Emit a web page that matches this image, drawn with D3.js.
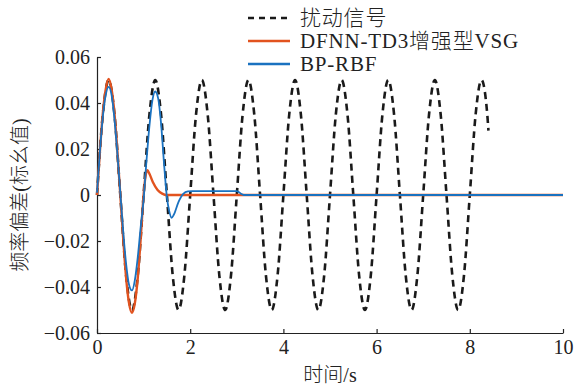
<!DOCTYPE html>
<html><head><meta charset="utf-8">
<script src="https://cdn.jsdelivr.net/npm/d3@7"></script>
<style>
body{margin:0;background:#fff;}
text{font-family:"Liberation Serif","Times New Roman","Noto Sans CJK SC",serif;fill:#222;}
</style></head>
<body><svg id="c" width="577" height="386"></svg>
<script>
// ---- data ----
const seriesNames = ["扰动信号", "DFNN-TD3增强型VSG", "BP-RBF"];
const xTicks = [0, 2, 4, 6, 8, 10];
const yTicks = [-0.06, -0.04, -0.02, 0, 0.02, 0.04, 0.06];
const yTickLabels = ["\u22120.06", "\u22120.04", "\u22120.02", "0", "0.02", "0.04", "0.06"];

// disturbance signal (dashed)
const distT = [0,0.125,0.25,0.375,0.5,0.625,0.75,0.875,
  1,1.125,1.25,1.375,1.5,1.625,1.75,1.875,
  2,2.125,2.25,2.375,2.5,2.625,2.75,2.875,
  3,3.125,3.25,3.375,3.5,3.625,3.75,3.875,
  4,4.125,4.25,4.375,4.5,4.625,4.75,4.875,
  5,5.125,5.25,5.375,5.5,5.625,5.75,5.875,
  6,6.125,6.25,6.375,6.5,6.625,6.75,6.875,
  7,7.125,7.25,7.375,7.5,7.625,7.75,7.875,
  8,8.125,8.25,8.375,8.4];
const distV = [0,0.035,0.05,0.035,0,-0.035,-0.05,-0.035,
  0,0.035,0.05,0.035,0,-0.035,-0.05,-0.035,
  0,0.035,0.05,0.035,0,-0.035,-0.05,-0.035,
  0,0.035,0.05,0.035,0,-0.035,-0.05,-0.035,
  0,0.035,0.05,0.035,0,-0.035,-0.05,-0.035,
  0,0.035,0.05,0.035,0,-0.035,-0.05,-0.035,
  0,0.035,0.05,0.035,0,-0.035,-0.05,-0.035,
  0,0.035,0.05,0.035,0,-0.035,-0.05,-0.035,
  0,0.035,0.05,0.035,0.028];

// DFNN-TD3 enhanced VSG (orange)
const redT = [0,0.0625,0.125,0.1875,0.25,0.3125,0.375,0.4375,0.5,0.5625,0.625,0.6875,0.75,0.8125,0.875,0.9375,1.0,1.04,1.08,1.13,1.2,1.3,1.4,1.5,10];
const redV = [0,0.019,0.0355,0.046,0.0505,0.046,0.0355,0.019,0,-0.019,-0.036,-0.047,-0.0512,-0.047,-0.036,-0.019,0,0.008,0.0108,0.009,0.0055,0.0022,0.0006,0,0];

// BP-RBF (blue)
const blueT = [0,0.0625,0.125,0.1875,0.25,0.3125,0.375,0.4375,0.5,0.5625,0.625,0.6875,0.75,0.8125,0.875,0.9375,1.0,1.0625,1.125,1.1875,1.25,1.3125,1.375,1.4375,1.5,1.55,1.6,1.65,1.75,1.85,1.95,2.05,3.0,3.05,3.1,3.15,10];
const blueV = [0.001,0.019,0.034,0.0435,0.047,0.0435,0.033,0.018,0.001,-0.016,-0.030,-0.039,-0.0415,-0.037,-0.027,-0.014,-0.002,0.015,0.030,0.041,0.045,0.042,0.031,0.014,-0.001,-0.007,-0.0099,-0.0085,-0.003,0.0005,0.0016,0.0017,0.0017,0.0012,0.0004,0,0];

// ---- drawing ----
const svg = d3.select("#c");
const x = d3.scaleLinear().domain([0,10]).range([97,563]);
const y = d3.scaleLinear().domain([-0.06,0.06]).range([333,57]);

const line = d3.line().x(d=>x(d[0])).y(d=>y(d[1])).curve(d3.curveMonotoneX);
const zip = (a,b)=>a.map((t,i)=>[t,b[i]]);

const colors = ["#1a1a1a", "#e2531f", "#1a72c0"];

// axes
const gx = svg.append("g").attr("transform","translate(0,333)")
  .call(d3.axisBottom(x).tickValues(xTicks).tickSizeInner(-4).tickSizeOuter(0).tickPadding(7).tickFormat(d3.format("d")));
const gy = svg.append("g").attr("transform","translate(97,0)")
  .call(d3.axisLeft(y).tickValues(yTicks).tickSizeInner(-4).tickSizeOuter(0).tickPadding(7).tickFormat((d,i)=>yTickLabels[i]));
[gx,gy].forEach(g=>{
  g.select(".domain").attr("stroke","#222").attr("stroke-width",1.2);
  g.selectAll(".tick line").attr("stroke","#222").attr("stroke-width",1.2);
  g.selectAll(".tick text").attr("font-size",20).attr("font-family","Liberation Serif").attr("fill","#222");
});

// series
svg.append("path").datum(zip(distT,distV)).attr("d",line)
  .attr("fill","none").attr("stroke",colors[0]).attr("stroke-width",2.6).attr("stroke-dasharray","7,5");
svg.append("path").datum(zip(redT,redV)).attr("d",line)
  .attr("fill","none").attr("stroke",colors[1]).attr("stroke-width",2.4);
svg.append("path").datum(zip(blueT,blueV)).attr("d",line)
  .attr("fill","none").attr("stroke",colors[2]).attr("stroke-width",1.8);

// axis titles
svg.append("text").attr("x",330).attr("y",382).attr("text-anchor","middle")
  .attr("font-size",20).attr("font-weight",300).text("时间/s");
svg.append("text").attr("transform","translate(27,195) rotate(-90)").attr("text-anchor","middle")
  .attr("font-size",20).attr("font-weight",300).text("频率偏差(标幺值)");

// legend
const legY = [18, 41, 64];
const lg = svg.append("g");
seriesNames.forEach((n,i)=>{
  lg.append("line").attr("x1",248).attr("x2",290).attr("y1",legY[i]).attr("y2",legY[i])
    .attr("stroke",colors[i]).attr("stroke-width", i===0?2.6:2.4)
    .attr("stroke-dasharray", i===0?"6,5":null);
  lg.append("text").attr("x",300).attr("y",legY[i]+7).attr("font-size",21)
    .attr("font-weight",300).attr("letter-spacing",0.8).text(n);
});
</script></body></html>
